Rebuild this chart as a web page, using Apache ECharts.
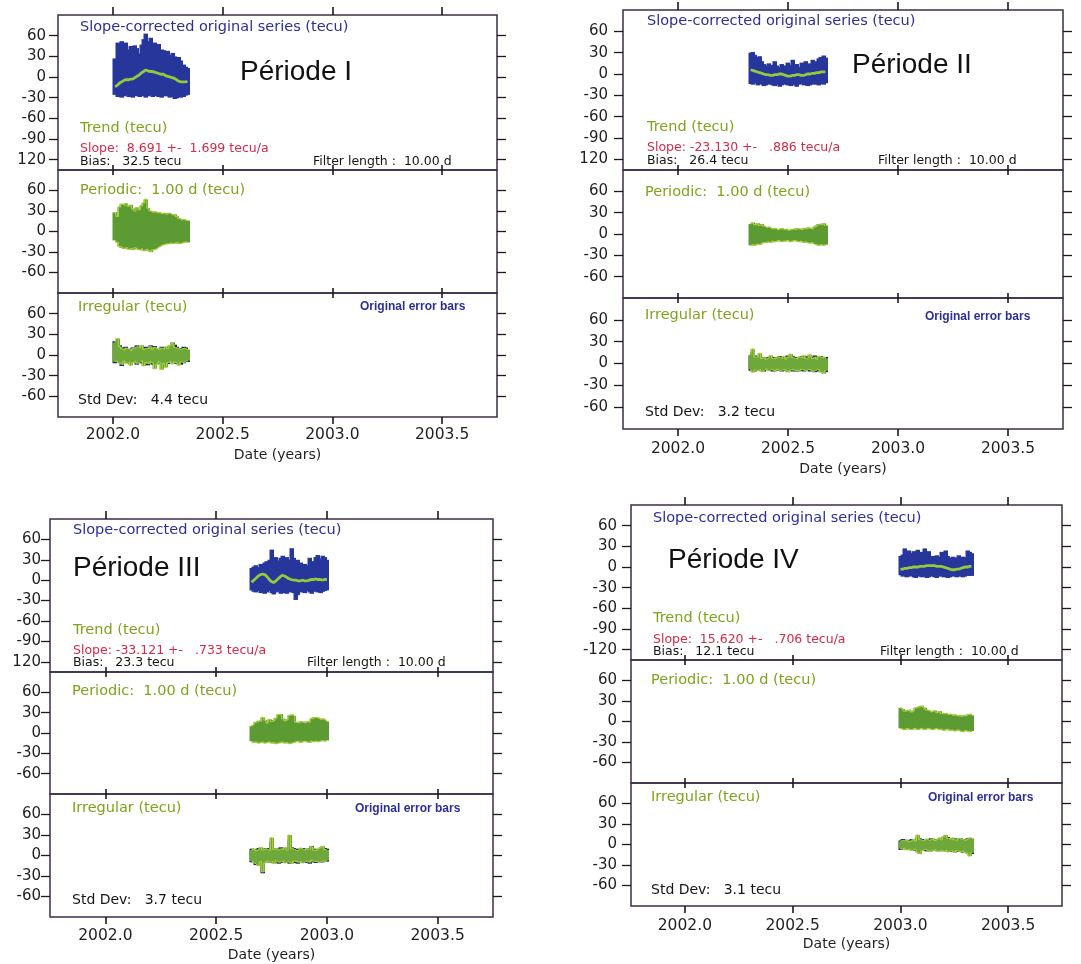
<!DOCTYPE html>
<html><head><meta charset="utf-8">
<script src="https://cdn.jsdelivr.net/npm/echarts@6/dist/echarts.min.js"></script>
<style>html,body{margin:0;padding:0;background:#fff;}#c{width:1081px;height:964px;}</style>
</head><body><div id="c"></div>
<script>
// ---------------- DATA ----------------
const X_TICKS = [2002.0, 2002.5, 2003.0, 2003.5];
const Y_TICKS_TOP = [-120, -90, -60, -30, 0, 30, 60];
const Y_TICKS_SUB = [-60, -30, 0, 30, 60];
const Y_LABELS_TOP_I = ['120', '-90', '-60', '-30', '0', '30', '60'];
const Y_LABELS_TOP_II = ['120', '-90', '-60', '-30', '0', '30', '60'];
const Y_LABELS_TOP_III = ['120', '-90', '-60', '-30', '0', '30', '60'];
const Y_LABELS_TOP_IV = ['-120', '-90', '-60', '-30', '0', '30', '60'];
const Y_LABELS_SUB = ['-60', '-30', '0', '30', '60'];

const PERIOD_NAMES = ['Période I', 'Période II', 'Période III', 'Période IV'];
const SLOPE_TEXT = ['Slope:  8.691 +-  1.699 tecu/a', 'Slope: -23.130 +-   .886 tecu/a', 'Slope: -33.121 +-   .733 tecu/a', 'Slope:  15.620 +-   .706 tecu/a'];
const BIAS_TEXT = ['Bias:   32.5 tecu', 'Bias:   26.4 tecu', 'Bias:   23.3 tecu', 'Bias:   12.1 tecu'];
const STD_TEXT = ['Std Dev:   4.4 tecu', 'Std Dev:   3.2 tecu', 'Std Dev:   3.7 tecu', 'Std Dev:   3.1 tecu'];

// Period I
const times_I = [2002.01,2002.02,2002.03,2002.04,2002.05,2002.06,2002.07,2002.08,2002.09,2002.10,2002.11,2002.12,2002.13,2002.14,2002.15,2002.16,2002.17,2002.18,2002.19,2002.20,2002.21,2002.22,2002.23,2002.24,2002.25,2002.26,2002.27,2002.28,2002.29,2002.30,2002.31,2002.32,2002.33,2002.34];
const origHi_I = [27,50,48,52,44,50,40,45,38,46,42,34,47,55,63,52,57,45,50,41,48,40,39,36,38,32,35,30,26,29,24,18,15,13];
const origLo_I = [-26,-29,-28,-30,-28,-27,-29,-28,-30,-27,-28,-29,-27,-28,-30,-28,-27,-29,-28,-27,-29,-30,-28,-27,-28,-30,-29,-32,-31,-28,-30,-29,-27,-26];
const trend_I = [-14,-12,-9,-7,-5,-4,-4,-3,-3,-1,1,3,6,8,10,9,8,8,7,6,5,4,4,2,1,0,-1,-2,-4,-6,-7,-7,-7,-6];
const perHi_I = [28,22,36,40,38,41,37,39,33,30,35,32,38,42,47,34,30,28,29,27,28,26,27,25,27,26,24,25,22,19,17,18,16,16];
const perLo_I = [-13,-16,-22,-24,-25,-23,-26,-25,-27,-24,-26,-27,-25,-28,-26,-28,-30,-27,-26,-24,-22,-20,-19,-18,-18,-17,-18,-17,-16,-18,-17,-16,-15,-16];
const irrHi_I = [18,24,12,9,7,10,8,6,9,11,12,10,14,8,10,9,12,8,11,9,7,10,8,12,9,14,17,11,10,9,8,10,9,8];
const irrLo_I = [-10,-8,-12,-14,-9,-12,-10,-15,-11,-9,-12,-10,-8,-16,-11,-13,-10,-12,-20,-14,-10,-21,-12,-18,-11,-9,-13,-10,-12,-15,-10,-11,-9,-8];
const errHi_I = [20,14,14,11,6,12,9,8,11,10,14,12,12,10,12,8,14,10,13,7,9,12,10,10,11,12,18,15,12,8,10,12,11,7];
const errLo_I = [-12,-10,-10,-16,-11,-10,-12,-13,-9,-11,-14,-12,-10,-12,-13,-15,-8,-14,-14,-12,-13,-12,-14,-15,-13,-10,-11,-12,-13,-12,-14,-12,-9,-10];

// Period II
const times_II = [2002.33,2002.34,2002.35,2002.36,2002.37,2002.38,2002.39,2002.40,2002.41,2002.42,2002.43,2002.44,2002.45,2002.46,2002.47,2002.48,2002.49,2002.50,2002.51,2002.52,2002.53,2002.54,2002.55,2002.56,2002.57,2002.58,2002.59,2002.60,2002.61,2002.62,2002.63,2002.64,2002.65,2002.66,2002.67];
const origHi_II = [30,31,27,24,25,18,14,12,15,11,13,18,12,10,14,12,11,16,13,20,12,14,10,16,13,18,12,15,20,14,18,22,24,26,23];
const origLo_II = [-14,-15,-13,-16,-14,-15,-17,-16,-15,-14,-16,-17,-15,-18,-16,-15,-14,-16,-17,-15,-16,-18,-15,-14,-16,-15,-17,-16,-15,-14,-15,-16,-14,-15,-13];
const trend_II = [6,5,4,3,2,1,0,-1,-1,-2,-2,-1,-1,0,0,-1,-2,-3,-3,-2,-2,-1,-1,-2,-2,-1,0,0,1,1,2,2,3,3,3];
const perHi_II = [14,16,13,15,12,14,11,9,10,8,7,8,6,7,8,6,7,5,6,7,6,8,7,6,8,7,9,8,7,10,12,14,13,15,12];
const perLo_II = [-16,-15,-16,-14,-15,-13,-12,-12,-11,-12,-10,-11,-10,-9,-11,-10,-10,-9,-11,-10,-9,-10,-11,-10,-12,-11,-12,-13,-12,-14,-15,-16,-15,-16,-15];
const irrHi_II = [12,20,9,8,14,7,9,6,8,11,7,6,9,8,7,10,6,9,13,8,7,6,9,8,11,7,8,12,7,9,6,10,8,9,7];
const irrLo_II = [-8,-12,-9,-10,-8,-11,-9,-7,-10,-8,-9,-11,-8,-10,-9,-8,-10,-12,-9,-8,-10,-9,-11,-8,-9,-10,-8,-9,-11,-10,-8,-9,-12,-14,-10];
const errHi_II = [10,16,11,9,10,9,7,8,9,9,9,8,7,10,9,8,8,11,10,10,9,8,7,10,10,9,10,10,9,11,8,8,10,7,9];
const errLo_II = [-10,-10,-11,-8,-10,-9,-11,-9,-8,-10,-11,-9,-10,-8,-11,-10,-9,-10,-10,-11,-9,-11,-9,-10,-11,-8,-10,-11,-9,-12,-10,-11,-10,-12,-12];

// Period III
const times_III = [2002.66,2002.67,2002.68,2002.69,2002.70,2002.71,2002.72,2002.73,2002.74,2002.75,2002.76,2002.77,2002.78,2002.79,2002.80,2002.81,2002.82,2002.83,2002.84,2002.85,2002.86,2002.87,2002.88,2002.89,2002.90,2002.91,2002.92,2002.93,2002.94,2002.95,2002.96,2002.97,2002.98,2002.99,2003.00];
const origHi_III = [18,20,22,19,24,22,26,28,30,45,32,34,29,33,36,31,34,30,47,33,28,30,26,23,24,22,33,25,28,34,37,32,36,34,30];
const origLo_III = [-15,-17,-18,-16,-19,-17,-20,-18,-16,-19,-21,-18,-17,-20,-19,-18,-20,-18,-17,-19,-29,-22,-18,-17,-19,-16,-18,-20,-17,-16,-18,-19,-17,-16,-15];
const trend_III = [-3,0,3,6,8,9,8,5,1,-2,-3,-1,2,5,7,6,4,2,1,0,0,-1,-1,0,-1,-1,0,1,1,2,1,1,0,1,1];
const perHi_III = [10,12,16,18,17,23,19,15,20,17,19,22,27,28,21,18,20,26,27,25,16,15,17,16,15,17,16,21,23,23,22,20,21,19,17];
const perLo_III = [-12,-14,-13,-15,-14,-13,-15,-14,-13,-15,-14,-16,-15,-14,-13,-15,-14,-16,-15,-14,-13,-12,-14,-13,-12,-13,-14,-12,-13,-12,-13,-12,-11,-12,-11];
const irrHi_III = [8,10,7,9,12,8,10,9,7,26,9,11,8,10,9,12,8,30,10,9,7,8,11,9,8,10,9,13,8,7,10,12,14,9,8];
const irrLo_III = [-8,-10,-12,-15,-9,-24,-11,-8,-10,-9,-12,-8,-10,-9,-8,-11,-9,-10,-12,-8,-9,-10,-8,-11,-9,-8,-10,-7,-9,-8,-10,-9,-8,-9,-7];
const errHi_III = [10,8,9,11,10,10,8,11,9,20,11,9,10,12,11,10,10,22,12,11,9,10,9,11,10,8,11,14,10,9,8,10,11,11,10];
const errLo_III = [-10,-8,-14,-12,-11,-26,-9,-10,-8,-11,-10,-10,-12,-11,-10,-9,-11,-12,-10,-10,-11,-12,-10,-9,-11,-10,-12,-9,-10,-11,-9,-10,-10,-8,-9];

// Period IV
const times_IV = [2003.00,2003.01,2003.02,2003.03,2003.04,2003.05,2003.06,2003.07,2003.08,2003.09,2003.10,2003.11,2003.12,2003.13,2003.14,2003.15,2003.16,2003.17,2003.18,2003.19,2003.20,2003.21,2003.22,2003.23,2003.24,2003.25,2003.26,2003.27,2003.28,2003.29,2003.30,2003.31,2003.32,2003.33];
const origHi_IV = [16,18,27,22,24,20,23,21,25,19,22,27,20,23,14,16,13,17,15,22,18,24,16,13,15,12,14,17,13,15,14,24,22,20];
const origLo_IV = [-12,-14,-13,-15,-14,-13,-15,-16,-14,-13,-15,-14,-16,-15,-13,-14,-15,-16,-14,-13,-15,-14,-16,-15,-14,-13,-15,-14,-13,-15,-14,-13,-12,-13];
const trend_IV = [-3,-3,-2,-2,-1,-1,0,0,0,1,1,1,2,2,2,2,2,1,1,1,0,-1,-2,-3,-4,-4,-3,-3,-2,-1,0,0,1,1];
const perHi_IV = [20,18,15,16,17,14,16,20,21,22,23,20,17,16,14,15,16,13,15,12,11,12,10,11,9,10,8,9,7,9,8,10,11,9];
const perLo_IV = [-10,-11,-12,-10,-11,-12,-11,-10,-12,-11,-10,-12,-11,-10,-11,-12,-11,-10,-12,-11,-13,-12,-11,-13,-12,-14,-13,-12,-14,-15,-13,-14,-15,-14];
const irrHi_IV = [4,6,5,7,4,6,8,5,14,7,6,5,8,6,7,9,6,8,10,7,12,14,9,8,10,7,6,9,8,7,6,8,10,9];
const irrLo_IV = [-6,-7,-5,-8,-6,-9,-7,-8,-12,-14,-9,-7,-8,-10,-8,-9,-7,-10,-8,-9,-10,-8,-11,-9,-10,-12,-9,-10,-11,-9,-12,-14,-17,-12];
const errHi_IV = [6,8,7,5,6,8,6,7,10,9,8,7,6,8,9,7,8,7,8,9,10,9,11,7,8,9,8,7,9,8,7,9,8,7];
const errLo_IV = [-8,-6,-7,-7,-8,-7,-9,-6,-10,-10,-8,-9,-10,-8,-10,-7,-9,-8,-10,-8,-9,-10,-9,-11,-8,-10,-11,-9,-10,-12,-10,-12,-13,-14];

// ---------------- LAYOUT / STYLE ----------------
const STEP = 0.01;
const X_MIN = 2001.75, X_MAX = 2003.75;
const FRAME = '#3d2c48', TICK = '#1a1a1a', LABEL = '#1f1f1f';
const C_BLUE = '#27369a', C_TREND = '#95c83d', C_PER = '#5c9a33', C_PER_EDGE = '#a9cd3b';
const C_IRR = '#6ea83a', C_IRR_EDGE = '#b0d23f', C_ERR = '#1c2a5e';
const C_TXT_BLUE = '#2d2f96', C_TXT_GREEN = '#80a31c', C_TXT_RED = '#d42a4a', C_TXT_BLACK = '#151515';
const FONT = 'DejaVu Sans';

const LAYOUT = [
  {left: 58, width: 439, tops: [15, 170, 293, 417], yMargin: 12, xMargin: 10, nameGap: 31},
  {left: 623, width: 440, tops: [10, 170, 298, 429], yMargin: 15, xMargin: 12, nameGap: 33},
  {left: 50, width: 443, tops: [519, 672, 794, 917], yMargin: 9, xMargin: 11, nameGap: 31},
  {left: 631, width: 431, tops: [505, 660, 783, 906], yMargin: 14, xMargin: 12, nameGap: 31}
];
// text anchors [x, y] (left, middle)
const TEXT_POS = [
  {head:[80,27], per:[240,72], trend:[80,128], slope:[80,149], bias:[80,162], filt:[313,162], periodic:[80,190], irr:[78,307], err:[360,307], std:[78,400]},
  {head:[647,21], per:[852,65], trend:[647,127], slope:[647,148], bias:[647,161], filt:[878,161], periodic:[645,192], irr:[645,315], err:[925,317], std:[645,412]},
  {head:[73,530], per:[73,568], trend:[73,630], slope:[73,651], bias:[73,663], filt:[307,663], periodic:[72,691], irr:[72,808], err:[355,809], std:[72,900]},
  {head:[653,518], per:[668,560], trend:[653,618], slope:[653,640], bias:[653,652], filt:[880,652], periodic:[651,680], irr:[651,797], err:[928,798], std:[651,890]}
];

const PANELS = [
  {times: times_I, origHi: origHi_I, origLo: origLo_I, trend: trend_I, perHi: perHi_I, perLo: perLo_I, irrHi: irrHi_I, irrLo: irrLo_I, errHi: errHi_I, errLo: errLo_I, yTop: Y_LABELS_TOP_I},
  {times: times_II, origHi: origHi_II, origLo: origLo_II, trend: trend_II, perHi: perHi_II, perLo: perLo_II, irrHi: irrHi_II, irrLo: irrLo_II, errHi: errHi_II, errLo: errLo_II, yTop: Y_LABELS_TOP_II},
  {times: times_III, origHi: origHi_III, origLo: origLo_III, trend: trend_III, perHi: perHi_III, perLo: perLo_III, irrHi: irrHi_III, irrLo: irrLo_III, errHi: errHi_III, errLo: errLo_III, yTop: Y_LABELS_TOP_III},
  {times: times_IV, origHi: origHi_IV, origLo: origLo_IV, trend: trend_IV, perHi: perHi_IV, perLo: perLo_IV, irrHi: irrHi_IV, irrLo: irrLo_IV, errHi: errHi_IV, errLo: errLo_IV, yTop: Y_LABELS_TOP_IV}
];

function bandRender(params, api) {
  const t = api.value(0), lo = api.value(1), hi = api.value(2);
  const a = api.coord([t - STEP / 2, hi]);
  const b = api.coord([t + STEP / 2, lo]);
  return {
    type: 'rect',
    shape: {x: Math.floor(a[0]) - 0.5, y: a[1], width: Math.ceil(b[0] - a[0]) + 1.5, height: Math.max(b[1] - a[1], 1)},
    style: {fill: api.visual('color'), stroke: null}
  };
}

const grids = [], xAxes = [], yAxes = [], series = [], graphic = [];

PANELS.forEach((P, p) => {
  const L = LAYOUT[p];
  for (let s = 0; s < 3; s++) {
    const g = p * 3 + s;
    const top = L.tops[s], h = L.tops[s + 1] - L.tops[s];
    grids.push({left: L.left, top: top, width: L.width, height: h, show: true,
      borderColor: FRAME, borderWidth: 1.5, backgroundColor: 'transparent'});
    const yMin = s === 0 ? -135 : -90, yMax = 90;
    const yTicks = s === 0 ? Y_TICKS_TOP : Y_TICKS_SUB;
    const yLabels = s === 0 ? P.yTop : Y_LABELS_SUB;
    xAxes.push({gridIndex: g, type: 'value', position: 'top', min: X_MIN, max: X_MAX,
      axisLine: {show: false, onZero: false}, splitLine: {show: false},
      axisTick: {show: true, customValues: X_TICKS, length: s === 0 ? 8 : 5, lineStyle: {color: TICK, width: 1.6}},
      axisLabel: {show: false}});
    const bottom = {gridIndex: g, type: 'value', position: 'bottom', min: X_MIN, max: X_MAX,
      axisLine: {show: false, onZero: false}, splitLine: {show: false},
      axisTick: {show: true, customValues: X_TICKS, length: s === 2 ? 7 : 5, lineStyle: {color: TICK, width: 1.6}},
      axisLabel: {show: false}};
    if (s === 2) {
      bottom.axisLabel = {show: true, customValues: X_TICKS, formatter: v => v.toFixed(1),
        color: LABEL, fontFamily: FONT, fontSize: 15.5, margin: L.xMargin};
      bottom.name = 'Date (years)';
      bottom.nameLocation = 'middle';
      bottom.nameGap = L.nameGap;
      bottom.nameTextStyle = {color: LABEL, fontFamily: FONT, fontSize: 14};
    }
    xAxes.push(bottom);
    yAxes.push({gridIndex: g, type: 'value', position: 'left', min: yMin, max: yMax,
      axisLine: {show: false, onZero: false}, splitLine: {show: false},
      axisTick: {show: true, customValues: yTicks, length: 9, lineStyle: {color: TICK, width: 1.3}},
      axisLabel: {show: true, customValues: yTicks, formatter: v => yLabels[yTicks.indexOf(v)],
        color: LABEL, fontFamily: FONT, fontSize: 15, margin: L.yMargin}});
    yAxes.push({gridIndex: g, type: 'value', position: 'right', min: yMin, max: yMax,
      axisLine: {show: false, onZero: false}, splitLine: {show: false},
      axisTick: {show: true, customValues: yTicks, length: 9, lineStyle: {color: TICK, width: 1.3}},
      axisLabel: {show: false}});

    const xi = 2 * g, yi = 2 * g;
    const band = (hi, lo, color, z) => ({type: 'custom', xAxisIndex: xi, yAxisIndex: yi, renderItem: bandRender,
      itemStyle: {color: color}, encode: {x: 0, y: [1, 2]}, silent: true, z: z, animation: false,
      data: P.times.map((t, i) => [t, lo[i], hi[i]])});
    const line = (vals, color, width, z, opts) => Object.assign({type: 'line', xAxisIndex: xi, yAxisIndex: yi,
      showSymbol: false, silent: true, z: z, animation: false,
      lineStyle: {color: color, width: width}, itemStyle: {color: color},
      data: P.times.map((t, i) => [t, vals[i]])}, opts || {});
    if (s === 0) {
      series.push(band(P.origHi, P.origLo, C_BLUE, 2));
      series.push(line(P.trend, C_TREND, 2.8, 3, {smooth: 0.4}));
    } else if (s === 1) {
      series.push(band(P.perHi, P.perLo, C_PER, 2));
      series.push(line(P.perHi, C_PER_EDGE, 1.2, 3, {step: 'middle'}));
      series.push(line(P.perLo, C_PER_EDGE, 1.2, 3, {step: 'middle'}));
    } else {
      series.push(band(P.errHi, P.errLo, C_ERR, 2));
      series.push(band(P.irrHi, P.irrLo, C_IRR, 3));
      series.push(line(P.irrHi, C_IRR_EDGE, 1, 4, {step: 'middle'}));
      series.push(line(P.irrLo, C_IRR_EDGE, 1, 4, {step: 'middle'}));
    }
  }

  const T = TEXT_POS[p];
  const txt = (pos, text, color, size, weight, family) => ({type: 'text', x: pos[0], y: pos[1], silent: true, z: 10,
    style: {text: text, fill: color, fontSize: size, fontWeight: weight || 'normal', fontFamily: family || FONT, verticalAlign: 'middle', align: 'left'}});
  graphic.push(txt(T.head, 'Slope-corrected original series (tecu)', C_TXT_BLUE, 14.5));
  graphic.push(txt(T.per, PERIOD_NAMES[p], '#111', 28, 'normal', 'Liberation Sans'));
  graphic.push(txt(T.trend, 'Trend (tecu)', C_TXT_GREEN, 14.5));
  graphic.push(txt(T.slope, SLOPE_TEXT[p], C_TXT_RED, 12.5));
  graphic.push(txt(T.bias, BIAS_TEXT[p], C_TXT_BLACK, 12.5));
  graphic.push(txt(T.filt, 'Filter length :  10.00 d', C_TXT_BLACK, 12.5));
  graphic.push(txt(T.periodic, 'Periodic:  1.00 d (tecu)', C_TXT_GREEN, 14.5));
  graphic.push(txt(T.irr, 'Irregular (tecu)', C_TXT_GREEN, 14.5));
  graphic.push(txt(T.err, 'Original error bars', C_TXT_BLUE, 12, 'bold', 'Liberation Sans'));
  graphic.push(txt(T.std, STD_TEXT[p], C_TXT_BLACK, 14));
});

const chart = echarts.init(document.getElementById('c'), null, {renderer: 'canvas'});
chart.setOption({
  animation: false,
  backgroundColor: '#ffffff',
  grid: grids, xAxis: xAxes, yAxis: yAxes, series: series, graphic: graphic
});
</script>
</body></html>
